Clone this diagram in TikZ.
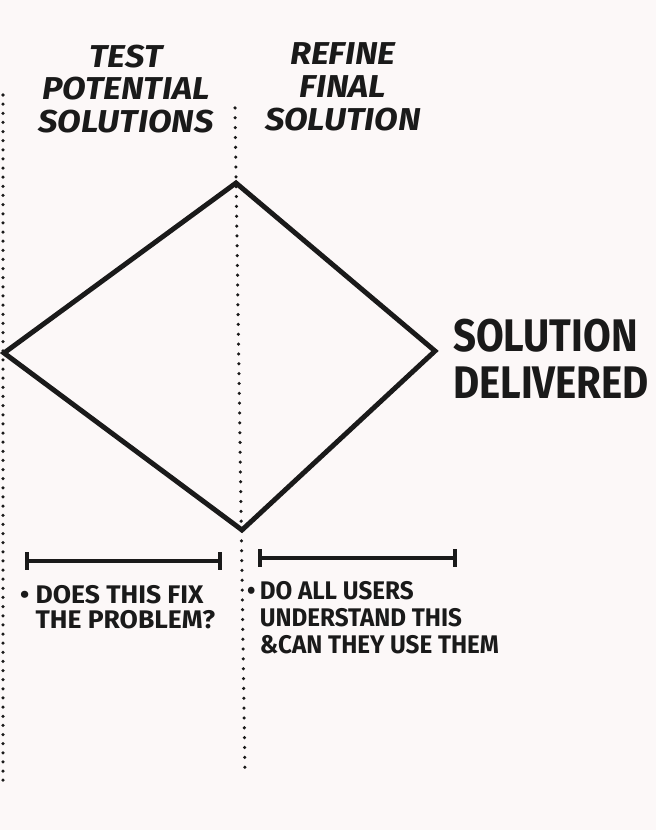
\documentclass[tikz,border=0pt]{standalone}
\usepackage{fontspec}
\setmainfont{Fira Sans}
\newfontfamily\headfont{Fira Sans}[FakeStretch=1.09]
\newfontfamily\bigfont{Fira Sans}[FakeStretch=0.88]
\newfontfamily\notefont{Fira Sans}[FakeStretch=1.04]
\newfontfamily\usersfont{Fira Sans}[FakeStretch=0.95]
\definecolor{paper}{RGB}{252,248,248}
\definecolor{ink}{RGB}{26,26,26}
\usetikzlibrary{arrows.meta}

\begin{document}
\begin{tikzpicture}[x=0.02cm, y=-0.02cm]
  %% Paper
  \fill[paper] (0,0) rectangle (656,830);
  \useasboundingbox (0,0) rectangle (656,830);

  %% Phase dividers (dotted)
  \draw[ink, line width=2pt, line cap=round, dash pattern=on 0pt off 5.2pt]
    (3,95) -- (3,782);
  \draw[ink, line width=2pt, line cap=round, dash pattern=on 0pt off 5.6pt]
    (235,108) -- (245,776);

  %% Diamond
  \coordinate (west)  at (4,353);
  \coordinate (north) at (236,183);
  \coordinate (east)  at (435,351);
  \coordinate (south) at (242,530);
  \draw[ink, line width=2.8pt, line join=miter]
    (west) -- (north) -- (east) -- (south) -- cycle;

  %% Headings
  \node[ink, align=center, font=\headfont\bfseries\itshape\fontsize{18}{18.7}\selectfont]
    (test) at (126,89) {TEST\\POTENTIAL\\SOLUTIONS};
  \node[ink, align=center, font=\headfont\bfseries\itshape\fontsize{18}{18.7}\selectfont]
    (refine) at (343,87) {REFINE\\FINAL\\SOLUTION};
  \node[ink, align=left, anchor=west, font=\bigfont\bfseries\fontsize{26}{26.8}\selectfont]
    (delivered) at (447,359) {SOLUTION\\DELIVERED};

  %% Time bars
  \coordinate (bar1a) at (25,561);
  \coordinate (bar1b) at (222,561);
  \coordinate (bar2a) at (258,558);
  \coordinate (bar2b) at (457,558);
  \draw[ink, line width=2.3pt, {Bar[width=10pt]}-{Bar[width=10pt]}] (bar1a) -- (bar1b);
  \draw[ink, line width=2.3pt, {Bar[width=10pt]}-{Bar[width=10pt]}] (bar2a) -- (bar2b);

  %% Questions
  \node[ink, align=left, anchor=north west, font=\notefont\bfseries\fontsize{14.5}{14.3}\selectfont]
    (fix) at (14,579) {\textbullet\ DOES THIS FIX\\\hphantom{\textbullet\ }THE PROBLEM?};
  \node[ink, align=left, anchor=north west, font=\usersfont\bfseries\fontsize{14.5}{15.5}\selectfont]
    (users) at (241,575) {\textbullet\,DO ALL USERS\\\hphantom{\textbullet\,}UNDERSTAND THIS\\\hphantom{\textbullet\,}\&CAN THEY USE THEM};
\end{tikzpicture}
\end{document}
